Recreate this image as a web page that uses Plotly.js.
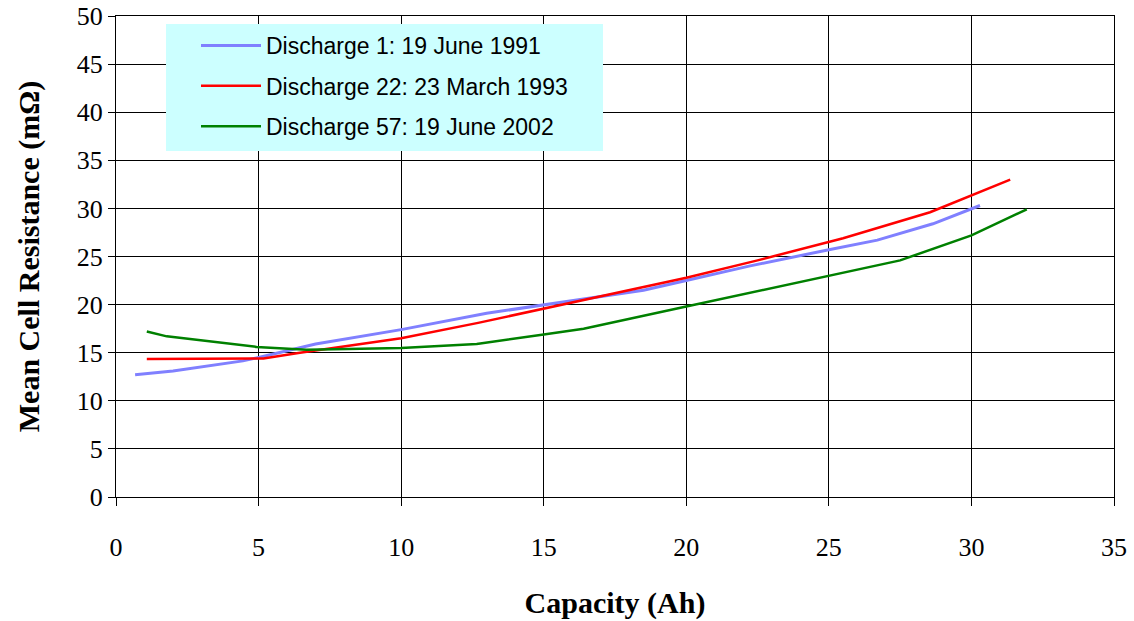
<!DOCTYPE html>
<html>
<head>
<meta charset="utf-8">
<script src="https://cdn.plot.ly/plotly-3.0.1.min.js"></script>
<style>html,body{margin:0;padding:0;background:#fff;}#chart{width:1134px;height:621px;}</style>
</head>
<body>
<div id="chart"></div>
<script>
var seriesNames = ["Discharge 1: 19 June 1991", "Discharge 22: 23 March 1993", "Discharge 57: 19 June 2002"];

var d1Capacity = [0.67, 2.0, 4.45, 5.0, 7.0, 10.0, 13.0, 15.0, 18.5, 20.0, 22.2, 25.0, 26.7, 28.65, 30.3];
var d1Resistance = [12.7, 13.1, 14.15, 14.5, 15.9, 17.4, 19.1, 20.0, 21.5, 22.5, 24.0, 25.7, 26.7, 28.4, 30.3];

var d22Capacity = [1.08, 3.0, 5.17, 6.45, 10.0, 12.7, 15.0, 17.5, 20.0, 22.5, 25.5, 28.55, 31.36];
var d22Resistance = [14.35, 14.35, 14.4, 15.0, 16.5, 18.1, 19.6, 21.2, 22.8, 24.6, 26.9, 29.6, 33.0];

var d57Capacity = [1.08, 1.78, 4.93, 6.69, 10.0, 12.65, 15.0, 16.4, 20.0, 25.0, 27.5, 30.0, 31.94];
var d57Resistance = [17.2, 16.7, 15.6, 15.3, 15.5, 15.9, 16.9, 17.5, 19.8, 23.0, 24.6, 27.2, 29.9];

var xTicks = [0, 5, 10, 15, 20, 25, 30, 35];
var yTicks = [0, 5, 10, 15, 20, 25, 30, 35, 40, 45, 50];

var traces = [
  {x: d1Capacity, y: d1Resistance, name: seriesNames[0], mode: "lines", legendgroup: "a",
   line: {color: "#8080FF", width: 3}},
  {x: d22Capacity, y: d22Resistance, name: seriesNames[1], mode: "lines", legendgroup: "b",
   line: {color: "#FF0000", width: 2.5}},
  {x: d57Capacity, y: d57Resistance, name: seriesNames[2], mode: "lines", legendgroup: "c",
   line: {color: "#008000", width: 2.5}}
];

var serif = "Liberation Serif, Times New Roman, serif";
var W = 1134, H = 621, ml = 116, mr = 20, mt = 16, mb = 124;
var pw = W - ml - mr, ph = H - mt - mb;
function px2x(p) { return (p - ml) / pw; }
function py2y(p) { return (H - mb - p) / ph; }

var layout = {
  width: W, height: H,
  margin: {l: ml, r: mr, t: mt, b: mb},
  paper_bgcolor: "#ffffff", plot_bgcolor: "#ffffff",
  showlegend: true,
  shapes: [{
    type: "rect", xref: "paper", yref: "paper", layer: "above",
    x0: px2x(166), x1: px2x(603), y0: py2y(151), y1: py2y(24),
    fillcolor: "#CCFFFF", line: {width: 0}
  }],
  legend: {
    x: px2x(196), y: py2y(24), xanchor: "left", yanchor: "top",
    bgcolor: "rgba(0,0,0,0)", borderwidth: 0,
    font: {family: "Liberation Sans, Arial, sans-serif", size: 23, color: "#000"},
    traceorder: "grouped", tracegroupgap: 7.5,
    itemwidth: 60
  },
  xaxis: {
    range: [0, 35], tickvals: xTicks, ticktext: xTicks.map(String),
    showgrid: true, gridcolor: "#000", gridwidth: 1,
    showline: true, linecolor: "#000", linewidth: 1, mirror: true,
    ticks: "outside", ticklen: 8, tickcolor: "#000",
    ticklabelstandoff: 19,
    zeroline: false,
    tickfont: {family: serif, size: 26, color: "#000"},
    title: {text: "<b>Capacity (Ah)</b>", font: {family: serif, size: 30, color: "#000"}, standoff: 30}
  },
  yaxis: {
    range: [0, 50], tickvals: yTicks, ticktext: yTicks.map(String),
    showgrid: true, gridcolor: "#000", gridwidth: 1,
    showline: true, linecolor: "#000", linewidth: 1, mirror: true,
    ticks: "outside", ticklen: 7, tickcolor: "#000",
    zeroline: false,
    tickfont: {family: serif, size: 26, color: "#000"},
    title: {text: "<b>Mean Cell Resistance (mΩ)</b>", font: {family: serif, size: 30, color: "#000"}, standoff: 28}
  }
};

Plotly.newPlot("chart", traces, layout, {displayModeBar: false, staticPlot: true});
</script>
</body>
</html>
